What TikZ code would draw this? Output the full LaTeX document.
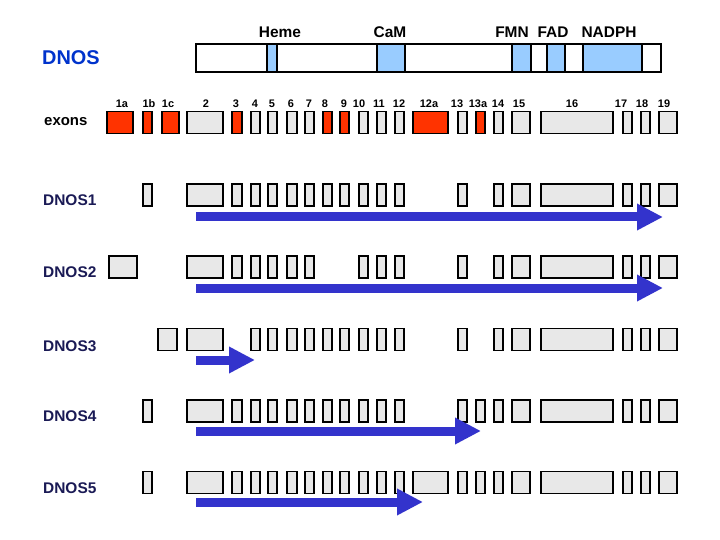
\documentclass[tikz,border=0pt]{standalone}
\usepackage{fontspec}
\setmainfont{Liberation Sans}
\usetikzlibrary{arrows.meta}
\definecolor{exred}{HTML}{FF3300}
\definecolor{exgrey}{HTML}{E8E8E8}
\definecolor{dombl}{HTML}{99CCFF}
\definecolor{arrbl}{HTML}{3333CC}
\definecolor{titbl}{HTML}{0033CC}
\definecolor{labnv}{HTML}{1A1A55}
% exon horizontal extents
\newcommand\exdef[3]{\expandafter\def\csname exL#1\endcsname{#2}\expandafter\def\csname exR#1\endcsname{#3}}
\exdef{1a}{107}{133}
\exdef{1aB}{109}{137}
\exdef{1b}{143}{152}
\exdef{1c}{162}{179}
\exdef{1cC}{158}{177}
\exdef{2}{187}{223}
\exdef{3}{232}{242}
\exdef{4}{251}{260}
\exdef{5}{268}{277}
\exdef{6}{287}{297}
\exdef{7}{305}{314}
\exdef{8}{323}{332}
\exdef{9}{340}{349}
\exdef{10}{359}{368}
\exdef{11}{377}{386}
\exdef{12}{395}{404}
\exdef{12a}{413}{448}
\exdef{13}{458}{467}
\exdef{13a}{476}{485}
\exdef{14}{494}{503}
\exdef{15}{512}{530}
\exdef{16}{541}{613}
\exdef{17}{623}{632}
\exdef{18}{641}{650}
\exdef{19}{659}{677}
\newcommand\exon[4]{%
  \pgfmathsetmacro\exw{\csname exR#2\endcsname-\csname exL#2\endcsname}%
  \pgfmathsetmacro\exc{(\csname exR#2\endcsname+\csname exL#2\endcsname)/2}%
  \node[#4, minimum width=\exw bp] (#1) at (\exc,#3) {};}
\newcommand\seg[5]{%
  \pgfmathsetmacro\exw{#3-#2}%
  \pgfmathsetmacro\exc{(#3+#2)/2}%
  \node[#5, minimum width=\exw bp] (#1) at (\exc,#4) {};}
\begin{document}
\begin{tikzpicture}[x=1bp,y=-1bp,
  exbox/.style={draw=black, line width=1.1bp, inner sep=0pt, outer sep=0pt, minimum height=22bp},
  gbox/.style={exbox, fill=exgrey},
  rbox/.style={exbox, fill=exred},
  dseg/.style={draw=black, line width=1.2bp, inner sep=0pt, outer sep=0pt, minimum height=28bp, fill=white},
  bseg/.style={dseg, fill=dombl},
  barframe/.style={draw=black, line width=2bp, inner sep=0pt, outer sep=0pt, minimum height=28bp},
  domlab/.style={font=\fontsize{15.5}{18}\selectfont\bfseries, text=black, inner sep=0pt},
  exlab/.style={font=\fontsize{11}{13}\selectfont\bfseries, text=black, inner sep=0pt},
  rowlab/.style={font=\fontsize{15.5}{18}\selectfont\bfseries, text=labnv, anchor=west, inner sep=0pt},
  bigarrow/.style={draw=arrbl, line width=9bp, -{Triangle[length=26bp,width=25bp]}}]
\useasboundingbox (0,0) rectangle (720,540);
\fill[white] (0,0) rectangle (720,540);

% title labels
\node[font=\fontsize{20}{24}\selectfont\bfseries, text=titbl, anchor=west, inner sep=0pt] (tdnos) at (42,58) {DNOS};
\node[font=\fontsize{15}{18}\selectfont\bfseries, text=black, anchor=west, inner sep=0pt] (texons) at (44,122) {exons};

% domain bar
\seg{s0}{196}{267}{58}{dseg}
\seg{sheme}{267}{277}{58}{bseg}
\seg{s1}{277}{377}{58}{dseg}
\seg{scam}{377}{405}{58}{bseg}
\seg{s2}{405}{512}{58}{dseg}
\seg{sfmn}{512}{531}{58}{bseg}
\seg{s3}{531}{547}{58}{dseg}
\seg{sfad}{547}{565}{58}{bseg}
\seg{s4}{565}{583}{58}{dseg}
\seg{snadph}{583}{642}{58}{bseg}
\seg{s5}{642}{661}{58}{dseg}
\seg{bar}{196}{661}{58}{barframe}

\node[domlab] (lheme) at (280,32) {Heme};
\node[domlab] (lcam) at (390,32) {CaM};
\node[domlab] (lfmn) at (512,32) {FMN};
\node[domlab] (lfad) at (553,32) {FAD};
\node[domlab] (lnadph) at (609,32) {NADPH};

% exon labels
\foreach \t/\xx in {1a/122,1b/149,1c/168,2/206,3/236,4/255,5/272,6/291,7/309,8/325,9/344,10/359,11/379,12/399,12a/429,13/457,13a/478,14/498,15/519,16/572,17/621,18/642,19/664}
  {\node[exlab] (lab\t) at (\xx,104) {\t};}

% main exon row
\foreach \e/\s in {1a/rbox,1b/rbox,1c/rbox,2/gbox,3/rbox,4/gbox,5/gbox,6/gbox,7/gbox,8/rbox,9/rbox,10/gbox,11/gbox,12/gbox,12a/rbox,13/gbox,13a/rbox,14/gbox,15/gbox,16/gbox,17/gbox,18/gbox,19/gbox}
  {\exon{m\e}{\e}{122.5}{\s}}

% DNOS1
\node[rowlab] (ln1) at (43,200) {DNOS1};
\foreach \e in {1b,2,3,4,5,6,7,8,9,10,11,12,13,14,15,16,17,18,19}
  {\exon{r1e\e}{\e}{195}{gbox}}
\coordinate (a1s) at (196,217);
\coordinate (a1e) at (663,217);
\draw[bigarrow] (a1s) -- (a1e);

% DNOS2
\node[rowlab] (ln2) at (43,272) {DNOS2};
\foreach \e in {1aB,2,3,4,5,6,7,10,11,12,13,14,15,16,17,18,19}
  {\exon{r2e\e}{\e}{267}{gbox}}
\coordinate (a2s) at (196,288);
\coordinate (a2e) at (663,288);
\draw[bigarrow] (a2s) -- (a2e);

% DNOS3
\node[rowlab] (ln3) at (43,346) {DNOS3};
\foreach \e in {1cC,2,4,5,6,7,8,9,10,11,12,13,14,15,16,17,18,19}
  {\exon{r3e\e}{\e}{339.5}{gbox}}
\coordinate (a3s) at (196,360);
\coordinate (a3e) at (255,360);
\draw[bigarrow] (a3s) -- (a3e);

% DNOS4
\node[rowlab] (ln4) at (43,416) {DNOS4};
\foreach \e in {1b,2,3,4,5,6,7,8,9,10,11,12,13,13a,14,15,16,17,18,19}
  {\exon{r4e\e}{\e}{411}{gbox}}
\coordinate (a4s) at (196,431);
\coordinate (a4e) at (481,431);
\draw[bigarrow] (a4s) -- (a4e);

% DNOS5
\node[rowlab] (ln5) at (43,488) {DNOS5};
\foreach \e in {1b,2,3,4,5,6,7,8,9,10,11,12,12a,13,13a,14,15,16,17,18,19}
  {\exon{r5e\e}{\e}{482.5}{gbox}}
\coordinate (a5s) at (196,502);
\coordinate (a5e) at (423,502);
\draw[bigarrow] (a5s) -- (a5e);
\end{tikzpicture}
\end{document}
